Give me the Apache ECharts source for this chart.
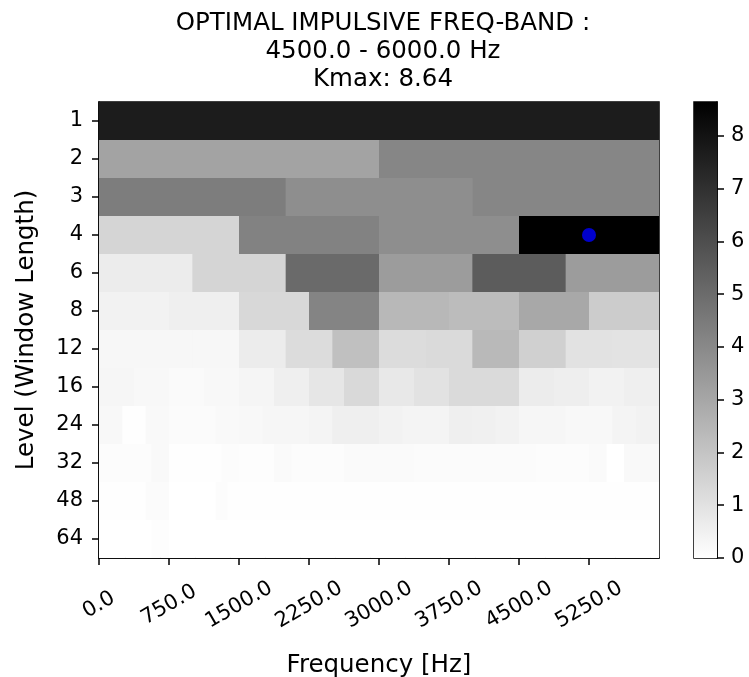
<!DOCTYPE html>
<html>
<head>
<meta charset="utf-8">
<script src="https://cdn.jsdelivr.net/npm/echarts@6/dist/echarts.min.js"></script>
<style>html,body{margin:0;padding:0;background:#fff}#c{width:749px;height:677px}</style>
</head>
<body>
<div id="c"></div>
<script>
// ---- data ----
const LEVELS = ['1','2','3','4','6','8','12','16','24','32','48','64'];
const FMAX = 6000;
const X_TICKS = [0, 750, 1500, 2250, 3000, 3750, 4500, 5250];
const CB_TICKS = [0, 1, 2, 3, 4, 5, 6, 7, 8];
const KMAX = 8.64;
const BAND = [4500.0, 6000.0];
const BEST = [5250, '4'];

const K1 = [7.69];
const K2 = [3.12, 4.10];
const K3 = [4.40, 3.83, 4.10];
const K4 = [1.42, 4.24, 3.83, 8.64];
const K6 = [0.64, 1.42, 5.05, 3.35, 5.52, 3.35];
const K8 = [0.44, 0.54, 1.32, 4.17, 2.41, 2.27, 2.95, 1.73];
const K12 = [0.28, 0.27, 0.28, 0.64, 1.19, 2.14, 1.19, 1.25, 2.37, 1.60, 0.98, 0.95];
const K16 = [0.30, 0.24, 0.17, 0.24, 0.34, 0.54, 0.85, 1.29, 0.78, 0.98, 1.25, 1.25, 0.64, 0.58, 0.44, 0.54];
const K24 = [0.24, 0.02, 0.20, 0.14, 0.14, 0.20, 0.24, 0.30, 0.30, 0.37, 0.54, 0.54,
             0.44, 0.37, 0.37, 0.54, 0.51, 0.44, 0.30, 0.30, 0.24, 0.24, 0.37, 0.44];
const K32 = [0.10, 0.10, 0.10, 0.20, 0.03, 0.03, 0.03, 0.10, 0.07, 0.07, 0.17, 0.10, 0.10, 0.10, 0.17, 0.17,
             0.17, 0.17, 0.15, 0.15, 0.15, 0.14, 0.14, 0.14, 0.14, 0.10, 0.10, 0.10, 0.17, 0.00, 0.20, 0.20];
const K48 = [0.03, 0.03, 0.03, 0.03, 0.12, 0.12, 0.00, 0.00, 0.00, 0.00, 0.10, 0.03,
             0.03, 0.03, 0.03, 0.03, 0.03, 0.03, 0.03, 0.03, 0.03, 0.03, 0.03, 0.03,
             0.03, 0.03, 0.03, 0.03, 0.03, 0.03, 0.03, 0.03, 0.03, 0.03, 0.03, 0.03,
             0.03, 0.03, 0.03, 0.03, 0.03, 0.03, 0.03, 0.03, 0.03, 0.03, 0.03, 0.03];
const K64 = [0.01, 0.01, 0.01, 0.01, 0.01, 0.01, 0.08, 0.08, 0.01, 0.01, 0.01, 0.01, 0.01, 0.01, 0.01, 0.01,
             0.01, 0.01, 0.01, 0.01, 0.01, 0.01, 0.01, 0.01, 0.01, 0.01, 0.01, 0.01, 0.01, 0.01, 0.01, 0.01,
             0.01, 0.01, 0.01, 0.01, 0.01, 0.01, 0.01, 0.01, 0.01, 0.01, 0.01, 0.01, 0.01, 0.01, 0.01, 0.01,
             0.01, 0.01, 0.01, 0.01, 0.01, 0.01, 0.01, 0.01, 0.01, 0.01, 0.01, 0.01, 0.01, 0.01, 0.01, 0.01];
const ROWS = [K1, K2, K3, K4, K6, K8, K12, K16, K24, K32, K48, K64];

// ---- build cells: [f0, f1, rowIndex, value] ----
const cells = [];
ROWS.forEach((row, r) => {
  const bw = FMAX / row.length;
  row.forEach((v, i) => cells.push([i * bw, (i + 1) * bw, r, v]));
});

const FONT = 'DejaVu Sans';
const chart = echarts.init(document.getElementById('c'), null, {renderer: 'canvas'});

function renderCell(params, api) {
  const p0 = api.coord([api.value(0), api.value(2)]);
  const p1 = api.coord([api.value(1), api.value(2)]);
  const h = api.size([0, 1])[1];
  return {
    type: 'rect',
    shape: {x: p0[0], y: p0[1] - h / 2, width: p1[0] - p0[0] + 0.6, height: h + 0.6},
    style: {fill: api.visual('color'), stroke: null}
  };
}

chart.setOption({
  animation: false,
  backgroundColor: '#ffffff',
  title: {
    text: 'OPTIMAL IMPULSIVE FREQ-BAND :\n' + BAND[0].toFixed(1) + ' - ' + BAND[1].toFixed(1) + ' Hz\nKmax: ' + KMAX.toFixed(2),
    left: 378, top: 5, textAlign: 'center',
    textStyle: {fontFamily: FONT, fontSize: 24.5, fontWeight: 'normal', color: '#000', lineHeight: 28}
  },
  visualMap: {
    show: false, type: 'continuous', min: 0, max: KMAX, dimension: 3, seriesIndex: 0,
    inRange: {color: ['#ffffff', '#000000']}
  },
  grid: [
    {left: 99, top: 102, width: 560, height: 456, show: true, borderColor: '#000', borderWidth: 1.5,
     backgroundColor: 'transparent', containLabel: false, outerBoundsMode: 'none'},
    {left: 694, top: 102, width: 23, height: 456, show: true, borderColor: '#000', borderWidth: 1.5,
     backgroundColor: 'transparent', containLabel: false, outerBoundsMode: 'none'}
  ],
  xAxis: [
    {
      type: 'value', gridIndex: 0, min: 0, max: FMAX,
      name: 'Frequency [Hz]', nameLocation: 'middle', nameGap: 95,
      nameTextStyle: {fontFamily: FONT, fontSize: 24.5, color: '#000'},
      axisLine: {show: true, lineStyle: {color: '#000', width: 1.5}},
      axisTick: {show: true, length: 7, lineStyle: {color: '#000', width: 1.5}, customValues: X_TICKS},
      axisLabel: {
        customValues: X_TICKS, rotate: 30, margin: 47, align: 'center', verticalAlign: 'middle',
        fontFamily: FONT, fontSize: 21, color: '#000',
        formatter: v => Number(v).toFixed(1)
      },
      splitLine: {show: false}
    },
    {
      type: 'category', gridIndex: 1, data: ['cb'], show: false
    }
  ],
  yAxis: [
    {
      type: 'category', gridIndex: 0, data: LEVELS, inverse: true,
      name: 'Level (Window Length)', nameLocation: 'middle', nameGap: 60,
      nameTextStyle: {fontFamily: FONT, fontSize: 24.5, color: '#000'},
      axisLine: {show: true, lineStyle: {color: '#000', width: 1.5}},
      axisTick: {show: true, alignWithLabel: true, length: 7, lineStyle: {color: '#000', width: 1.5}},
      axisLabel: {margin: 16, fontFamily: FONT, fontSize: 21, color: '#000'},
      splitLine: {show: false}
    },
    {
      type: 'value', gridIndex: 1, min: 0, max: KMAX, position: 'right',
      axisLine: {show: true, lineStyle: {color: '#000', width: 1.5}},
      axisTick: {show: true, length: 7, lineStyle: {color: '#000', width: 1.5}, customValues: CB_TICKS},
      axisLabel: {customValues: CB_TICKS, margin: 14, fontFamily: FONT, fontSize: 21, color: '#000'},
      splitLine: {show: false}
    }
  ],
  series: [
    {
      type: 'custom', xAxisIndex: 0, yAxisIndex: 0, clip: true,
      renderItem: renderCell, encode: {x: [0, 1], y: 2}, data: cells, z: 1
    },
    {
      type: 'scatter', xAxisIndex: 0, yAxisIndex: 0, symbolSize: 14,
      itemStyle: {color: '#0000ff'}, data: [BEST], z: 5
    },
    {
      type: 'bar', xAxisIndex: 1, yAxisIndex: 1, barWidth: '100%', data: [KMAX],
      itemStyle: {color: new echarts.graphic.LinearGradient(0, 0, 0, 1, [
        {offset: 0, color: '#000000'}, {offset: 1, color: '#ffffff'}
      ])}
    }
  ]
});
</script>
</body>
</html>
